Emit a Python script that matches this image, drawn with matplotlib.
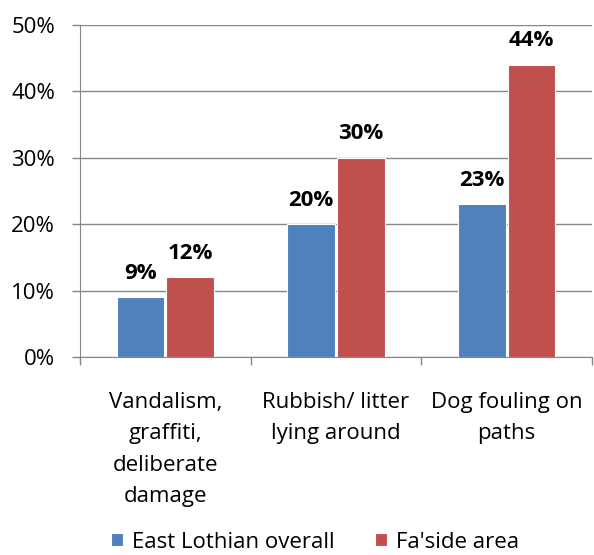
import matplotlib
matplotlib.use("Agg")
import matplotlib.pyplot as plt
from matplotlib.ticker import FuncFormatter, FixedLocator
import numpy as np

categories = ["Vandalism,\ngraffiti,\ndeliberate\ndamage", "Rubbish/ litter\nlying around", "Dog fouling on\npaths"]
series_names = ["East Lothian overall", "Fa'side area"]
east_lothian = [9, 20, 23]
faside = [12, 30, 44]
colors = ["#4F81BD", "#C0504D"]

plt.rcParams['font.family'] = ['Open Sans', 'DejaVu Sans']
FS = 16

fig = plt.figure(figsize=(5.94, 5.55), dpi=100)
ax = fig.add_axes([80/594, 1-357/555, (592-80)/594, (357-25)/555])

x = np.arange(len(categories))
w = 0.28
gap = 0.006
b1 = ax.bar(x - w/2 - gap, east_lothian, w, color=colors[0], edgecolor="white", linewidth=0.8, label=series_names[0], zorder=3)
b2 = ax.bar(x + w/2 + gap, faside, w, color=colors[1], edgecolor="white", linewidth=0.8, label=series_names[1], zorder=3)

for bars, vals in ((b1, east_lothian), (b2, faside)):
    for r, v in zip(bars, vals):
        ax.text(r.get_x() + r.get_width()/2, v + 2.8, f"{v}%", ha="center", va="baseline",
                fontsize=FS, fontweight="bold", color="black")

ax.set_xlim(-0.5, 2.5)
ax.set_ylim(0, 50)
ax.yaxis.set_major_locator(FixedLocator([0, 10, 20, 30, 40, 50]))
ax.yaxis.set_major_formatter(FuncFormatter(lambda v, p: f"{int(v)}%"))
ax.grid(axis="y", color="#868686", linewidth=1, zorder=0)
ax.set_axisbelow(True)

ax.set_xticks([-0.5, 0.5, 1.5, 2.5])
ax.set_xticklabels([])
ax.set_xticks(x, minor=True)
ax.set_xticklabels(categories, minor=True, fontsize=FS, linespacing=1.66)
ax.tick_params(axis="x", which="minor", length=0, pad=25)
ax.tick_params(axis="x", which="major", length=6, color="#868686", width=1)
ax.tick_params(axis="y", length=6, color="#868686", width=1, labelsize=FS, pad=12)

for s in ["top", "right"]:
    ax.spines[s].set_visible(False)
ax.spines["left"].set_color("#868686")
ax.spines["bottom"].set_color("#868686")

fig.legend(handles=[b1, b2], labels=series_names, loc="center", bbox_to_anchor=(315/594, 1-542/555),
           ncol=2, frameon=False, fontsize=FS, handlelength=0.55, handleheight=0.55,
           handletextpad=0.4, columnspacing=1.8, borderpad=0.1)

fig.savefig("out.png", dpi=100)
